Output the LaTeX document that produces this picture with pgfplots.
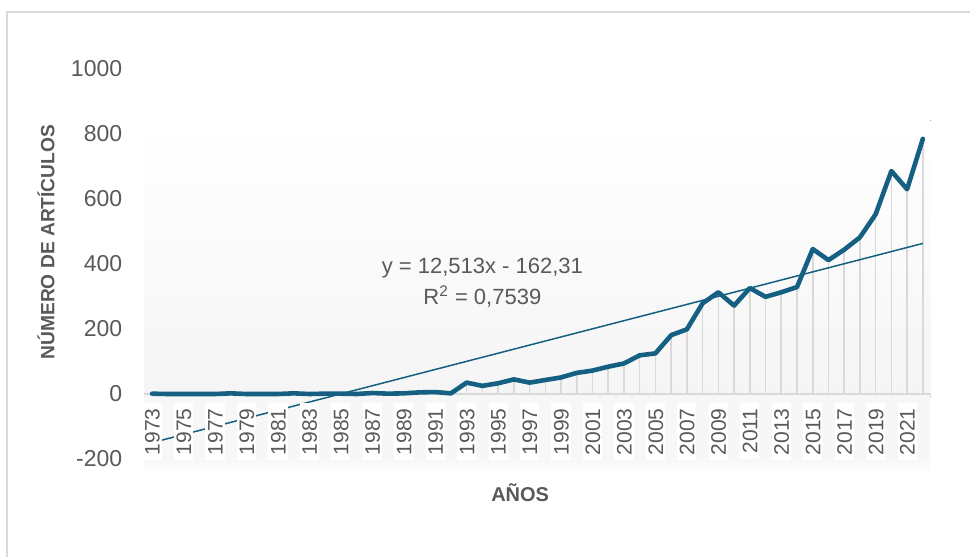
\documentclass[border=0pt]{standalone}
\usepackage{pgfplots}
\pgfplotsset{compat=1.18}
\usepackage{fontspec}
\setmainfont{Liberation Sans}
\definecolor{lineblue}{HTML}{156082}
\definecolor{txtgray}{HTML}{595959}
\definecolor{dropgray}{HTML}{D9D9D9}
\definecolor{framegray}{HTML}{D9D9D9}
\begin{document}
\begin{tikzpicture}
\path[use as bounding box] (-72.1pt,-49pt) rectangle (412.9pt,229.5pt);
\draw[framegray, line width=0.8pt] (-68.6pt,-49pt) -- (-68.6pt,223.5pt) -- (412.9pt,223.5pt);
\begin{axis}[
  scale only axis,
  width=393.25pt, height=195pt,
  xmin=0.5, xmax=50.5,
  ymin=-200, ymax=1000,
  axis x line*=middle,
  axis y line*=left,
  x axis line style={draw=none},
  y axis line style={draw=none},
  major tick length=0pt,
  axis on top,
  clip=false,
  ytick={-200,0,200,400,600,800,1000},
  xtick={1,3,...,49},
  xticklabels={1973,1975,1977,1979,1981,1983,1985,1987,1989,1991,1993,1995,1997,1999,2001,2003,2005,2007,2009,2011,2013,2015,2017,2019,2021},
  /pgf/number format/assume math mode=true,
  /pgf/number format/1000 sep={},
  yticklabel style={font=\fontsize{11.5}{13}\selectfont, text=txtgray, anchor=east, xshift=-7.5pt},
  xticklabel style={font=\fontsize{10.5}{12}\selectfont, text=txtgray, rotate=90, anchor=east,
     fill=white, text height=7.6pt, text depth=0pt, inner xsep=2.5pt, inner ysep=1pt, xshift=-4.5pt},
  xlabel={AÑOS},
  ylabel={NÚMERO DE ARTÍCULOS},
  xlabel style={font=\bfseries\fontsize{10}{12}\selectfont, text=txtgray, at={(axis description cs:0.478,-0.087)}, anchor=center},
  ylabel style={font=\bfseries\fontsize{9.6}{12}\selectfont, text=txtgray, at={(axis description cs:-0.125,0.556)}, anchor=center, rotate=0},
]
% plot area gradient
\fill[top color=white, bottom color=gray!8] (axis cs:0.5,843) rectangle (axis cs:50.5,-8);
% band behind tick labels
\fill[gray!6] (axis cs:0.5,-8) rectangle (axis cs:50.45,-210);
\fill[top color=gray!4, bottom color=white] (axis cs:0.5,-210) rectangle (axis cs:50.45,-250);
% zero line
\draw[dropgray, line width=0.8pt] (axis cs:0.5,0) -- (axis cs:50.5,0);
% drop lines
\addplot[ycomb, dropgray, line width=0.8pt, no marks] table {
x y
1 1
2 0
3 0
4 0
5 0
6 2
7 0
8 0
9 0
10 2
11 0
12 1
13 1
14 0
15 3
16 1
17 2
18 5
19 6
20 2
21 35
22 25
23 33
24 45
25 35
26 43
27 51
28 65
29 72
30 84
31 94
32 119
33 125
34 181
35 199
36 279
37 313
38 272
39 326
40 299
41 313
42 329
43 446
44 412
45 444
46 482
47 553
48 686
49 630
50 785
};
% trend line
\addplot[lineblue, line width=0.75pt, no marks] coordinates {(1,-149.8) (50,463.3)};
% main series
\addplot[lineblue, line width=2.3pt, no marks, line join=round, line cap=round] table {
x y
1 1
2 0
3 0
4 0
5 0
6 2
7 0
8 0
9 0
10 2
11 0
12 1
13 1
14 0
15 3
16 1
17 2
18 5
19 6
20 2
21 35
22 25
23 33
24 45
25 35
26 43
27 51
28 65
29 72
30 84
31 94
32 119
33 125
34 181
35 199
36 279
37 313
38 272
39 326
40 299
41 313
42 329
43 446
44 412
45 444
46 482
47 553
48 686
49 630
50 785
};
\node[align=center, text=txtgray, font=\fontsize{11}{15.5}\selectfont] at (axis cs:22,343) {y = 12,513x - 162,31\\R\textsuperscript{2} = 0,7539};
\end{axis}
\end{tikzpicture}
\end{document}
